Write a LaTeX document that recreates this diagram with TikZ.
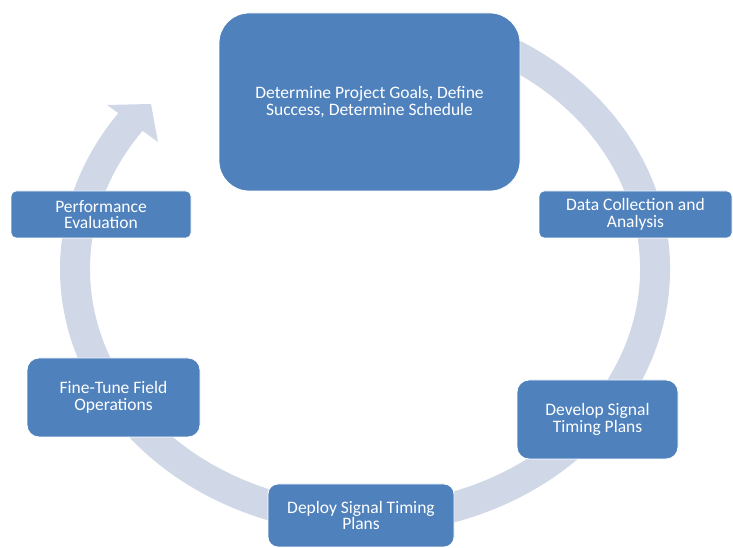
\documentclass[tikz,border=0pt]{standalone}
\usepackage{fontspec}
\usetikzlibrary{calc}
\setmainfont{Carlito}
\definecolor{boxblue}{HTML}{4F81BD}
\definecolor{ringgray}{HTML}{D0D8E8}
\tikzset{
  stepbox/.style={rectangle, fill=boxblue, draw=white, line width=0.8pt,
    text=white, align=center, inner sep=0pt,
    font=\fontsize{17.5}{16.5}\selectfont},
  ring/.style={draw=ringgray, line width=30pt},
  ringhead/.style={fill=ringgray, draw=none}
}
\begin{document}
\begin{tikzpicture}[x=1pt,y=1pt]
\useasboundingbox (0,0) rectangle (733,548);
% cycle ring (ellipse centre (365,279), rx 290, ry 250)
\coordinate (c) at (365,279);
\draw[ring] ($(c)+(65:290 and 250)$) arc[start angle=65, end angle=-216.5, x radius=290, y radius=250];
% arrow head
\coordinate (hb1) at (107,443);
\coordinate (htip) at (151,444);
\coordinate (hb2) at (158,406);
\fill[ringhead] (hb1) -- (htip) -- (hb2) -- cycle;
% boxes
\node[stepbox, minimum width=301, minimum height=178, rounded corners=30pt] (goals) at (369.5,446)
  {Determine Project Goals, Define\\Success, Determine Schedule};
\node[stepbox, minimum width=193, minimum height=47, rounded corners=5pt] (data) at (635.5,333.5)
  {Data Collection and\\Analysis};
\node[stepbox, minimum width=161, minimum height=79, rounded corners=12pt] (develop) at (597.5,128.5)
  {Develop Signal\\Timing Plans};
\node[stepbox, minimum width=186, minimum height=63, rounded corners=10pt] (deploy) at (361,32.5)
  {Deploy Signal Timing\\Plans};
\node[stepbox, minimum width=173, minimum height=79, rounded corners=12pt] (finetune) at (113.5,150.5)
  {Fine-Tune Field\\Operations};
\node[stepbox, minimum width=180, minimum height=47, rounded corners=5pt] (perf) at (101,333.5)
  {Performance\\Evaluation};
\end{tikzpicture}
\end{document}
